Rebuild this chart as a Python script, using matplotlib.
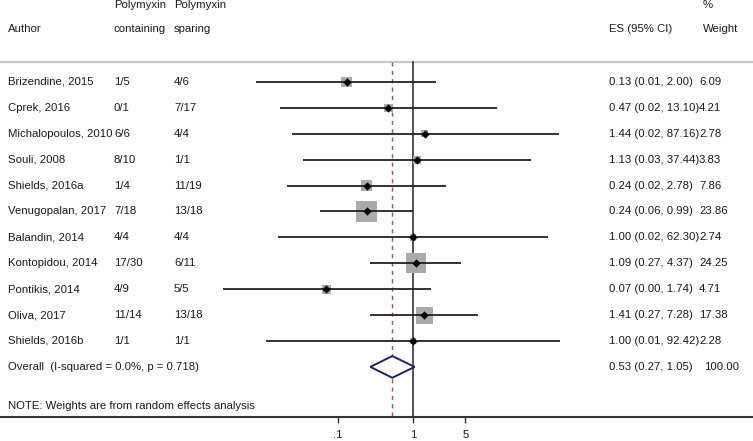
import matplotlib
matplotlib.use("Agg")
import matplotlib.pyplot as plt
import matplotlib.transforms as mtransforms
import numpy as np

plt.rcParams['font.family'] = ['Liberation Sans', 'DejaVu Sans']

authors = ["Brizendine, 2015", "Cprek, 2016", "Michalopoulos, 2010", "Souli, 2008",
           "Shields, 2016a", "Venugopalan, 2017", "Balandin, 2014", "Kontopidou, 2014",
           "Pontikis, 2014", "Oliva, 2017", "Shields, 2016b"]
containing = ["1/5", "0/1", "6/6", "8/10", "1/4", "7/18", "4/4", "17/30", "4/9", "11/14", "1/1"]
sparing = ["4/6", "7/17", "4/4", "1/1", "11/19", "13/18", "4/4", "6/11", "5/5", "13/18", "1/1"]
es = [0.13, 0.47, 1.44, 1.13, 0.24, 0.24, 1.00, 1.09, 0.07, 1.41, 1.00]
lo = [0.008, 0.017, 0.024, 0.034, 0.021, 0.058, 0.016, 0.27, 0.0029, 0.27, 0.011]
hi = [2.00, 13.10, 87.16, 37.44, 2.78, 0.99, 62.30, 4.37, 1.74, 7.28, 92.42]
weights = [6.09, 4.21, 2.78, 3.83, 7.86, 23.86, 2.74, 24.25, 4.71, 17.38, 2.28]
es_text = ["0.13 (0.01, 2.00)", "0.47 (0.02, 13.10)", "1.44 (0.02, 87.16)", "1.13 (0.03, 37.44)",
           "0.24 (0.02, 2.78)", "0.24 (0.06, 0.99)", "1.00 (0.02, 62.30)", "1.09 (0.27, 4.37)",
           "0.07 (0.00, 1.74)", "1.41 (0.27, 7.28)", "1.00 (0.01, 92.42)"]
w_text = ["6.09", "4.21", "2.78", "3.83", "7.86", "23.86", "2.74", "24.25", "4.71", "17.38", "2.28"]
overall_es, overall_lo, overall_hi = 0.53, 0.27, 1.05
overall_label = "Overall  (I-squared = 0.0%, p = 0.718)"
overall_text = "0.53 (0.27, 1.05)"
overall_w = "100.00"
note = "NOTE: Weights are from random effects analysis"
tick_vals = [0.1, 1, 5]
tick_labels = [".1", "1", "5"]

W, H = 753, 441
fig = plt.figure(figsize=(W / 100, H / 100), dpi=100)
ax = fig.add_axes([0, 0, 1, 1])
ax.set_xscale('log')
x0, dec = 413.0, 75.0
ax.set_xlim(10 ** (-x0 / dec), 10 ** ((W - x0) / dec))
y0, dy = 82.0, 25.9
ax.set_ylim((H - y0) / dy, -y0 / dy)

def ypx(p):
    return (p - y0) / dy

trans = mtransforms.blended_transform_factory(ax.transAxes, ax.transData)
fs = 8.2
tc = '#1a1a1a'

n = len(authors)
rows = np.arange(n)
y_over = n
y_note = ypx(406)
y_top = ypx(62)
y_axis = ypx(417.5)

# header rule
ax.plot([0, 1], [y_top, y_top], transform=trans, color='#c8c8c8', lw=1.6, clip_on=False)

# reference lines
ax.plot([1, 1], [y_top, y_axis], color='#222222', lw=1.1, zorder=2)
ax.plot([overall_es, overall_es], [y_top, y_axis], color='#a05555', lw=1.0,
        dashes=(3, 3), zorder=2)

# CIs
for i in range(n):
    ax.plot([lo[i], hi[i]], [rows[i], rows[i]], color='#222222', lw=1.3, zorder=3,
            solid_capstyle='butt')
ax.scatter(es, rows, s=[8.8 * w for w in weights], marker='s', color='#aaaaaa',
           edgecolors='none', zorder=2.5)
ax.scatter(es, rows, s=18, marker='D', color='black', zorder=4, linewidths=0)

# overall diamond
hd = 0.42
ax.fill([overall_lo, overall_es, overall_hi, overall_es, overall_lo],
        [y_over, y_over - hd, y_over, y_over + hd, y_over],
        facecolor='white', edgecolor='#1f1f7a', lw=1.4, zorder=5)

# axis
ax.spines[['top', 'right', 'left']].set_visible(False)
ax.spines['bottom'].set_position(('data', y_axis))
ax.spines['bottom'].set_color('#333333')
ax.spines['bottom'].set_linewidth(1.5)
ax.yaxis.set_visible(False)
ax.set_xticks(tick_vals)
ax.set_xticklabels(tick_labels, fontsize=fs, color=tc)
ax.xaxis.set_minor_locator(matplotlib.ticker.NullLocator())
ax.tick_params(axis='x', direction='out', length=4, width=1, color='#333333', pad=5)

# header text
def tx(xp, y, s, **kw):
    ax.text(xp / W, y, s, transform=trans, fontsize=fs, color=tc, va='center', ha='left', **kw)

tx(114, ypx(5), "Polymyxin")
tx(174, ypx(5), "Polymyxin")
tx(8, ypx(29), "Author")
tx(114, ypx(29), "containing")
tx(174, ypx(29), "sparing")
tx(609, ypx(29), "ES (95% CI)")
tx(703, ypx(5), "%")
tx(703, ypx(29), "Weight")

for i in range(n):
    tx(8, rows[i], authors[i])
    tx(114, rows[i], containing[i])
    tx(174, rows[i], sparing[i])
    tx(609, rows[i], es_text[i])
    tx(699, rows[i], w_text[i])

tx(8, y_over, overall_label)
tx(609, y_over, overall_text)
tx(704, y_over, overall_w)
tx(8, y_note, note)

fig.savefig("out.png", dpi=100)
